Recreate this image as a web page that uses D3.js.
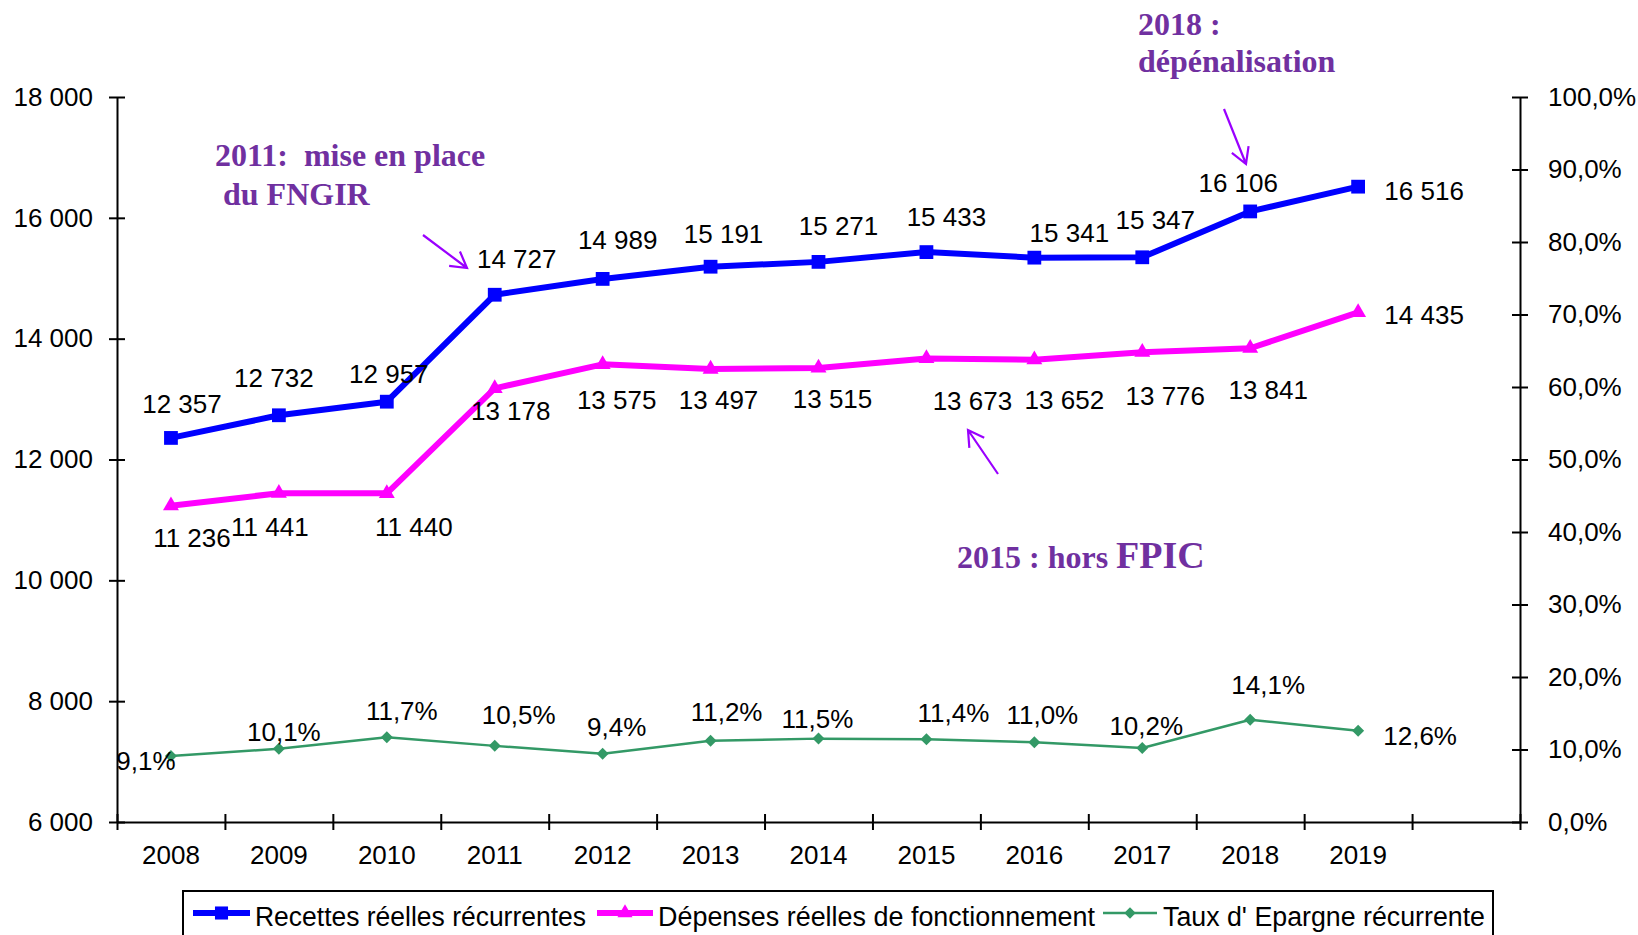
<html>

<head>
  <meta charset="utf-8">
  <script src="https://d3js.org/d3.v7.min.js"></script>
  <style>
    body {
      margin: 0;
      background: #fff;
    }

    text {
      font-family: "Liberation Sans", Arial, sans-serif;
    }

    .axis .domain,
    .axis line {
      stroke: #000;
      stroke-width: 2;
    }

    .axis text {
      font-size: 26px;
      fill: #000;
    }

    .lbl {
      font-size: 26px;
      fill: #000;
    }

    .note {
      font-family: "Liberation Serif", "Times New Roman", serif;
      font-weight: bold;
      font-size: 32px;
      fill: #7030A0;
      white-space: pre;
    }
  </style>
</head>

<body>
  <svg id="chart" width="1638" height="935"></svg>
  <script>
    // values
    const years = ["2008", "2009", "2010", "2011", "2012", "2013", "2014", "2015", "2016", "2017", "2018", "2019"];
    const recettes = [12357, 12732, 12957, 14727, 14989, 15191, 15271, 15433, 15341, 15347, 16106, 16516];
    const depenses = [11236, 11441, 11440, 13178, 13575, 13497, 13515, 13673, 13652, 13776, 13841, 14435];
    const taux = [9.1, 10.1, 11.7, 10.5, 9.4, 11.2, 11.5, 11.4, 11.0, 10.2, 14.1, 12.6];
    const leftTicks = [6000, 8000, 10000, 12000, 14000, 16000, 18000];
    const rightTicks = [0, 10, 20, 30, 40, 50, 60, 70, 80, 90, 100];
    const seriesNames = ["Recettes réelles récurrentes", "Dépenses réelles de fonctionnement", "Taux d' Epargne récurrente"];

    // where each data label sits relative to its point (dx, dy to baseline)
    const recNudge = [[11, -25], [-5, -28], [2, -19], [22, -27], [15, -30], [13, -24], [20, -27], [20, -26], [35, -16], [13, -28], [-12, -19], [66, 13]];
    const depNudge = [[21, 41], [-9, 43], [27, 43], [16, 32], [14, 45], [8, 40], [14, 40], [46, 52], [30, 49], [23, 53], [18, 51], [66, 12]];
    const tauxNudge = [[-25, 14], [5, -8], [15, -17], [24, -22], [14, -18], [16, -20], [-1, -11], [27, -17], [8, -18], [4, -13], [18, -26], [62, 14]];

    const svg = d3.select("svg#chart");
    const plotLeft = 117, plotRight = 1520, plotTop = 97, plotBottom = 822;
    const nSlots = 13;
    const slotW = (plotRight - plotLeft) / nSlots;

    const loc = d3.formatLocale({ decimal: ",", thousands: " ", grouping: [3], currency: ["", " €"] });
    const fmtInt = loc.format(",.0f");
    const fmtPct = d => loc.format(".1f")(d) + "%";

    const x = d3.scaleBand().domain(years).range([plotLeft, plotLeft + years.length * slotW]).padding(0);
    const slot = d3.scaleLinear().domain([0, nSlots]).range([plotLeft, plotRight]);
    const yL = d3.scaleLinear().domain([6000, 18000]).range([plotBottom, plotTop]);
    const yR = d3.scaleLinear().domain([0, 100]).range([plotBottom, plotTop]);
    const cx = i => x(years[i]) + x.bandwidth() / 2;

    // axes
    svg.append("g")
      .attr("class", "axis")
      .attr("transform", `translate(0,${plotBottom})`)
      .call(d3.axisBottom(slot).tickValues(d3.range(nSlots + 1)).tickFormat("").tickSizeInner(8).tickSizeOuter(0))
      .selectAll(".tick line").attr("y1", -8);

    svg.append("g")
      .attr("class", "axis")
      .attr("transform", `translate(0,${plotBottom})`)
      .call(d3.axisBottom(x).tickSize(0).tickPadding(24))
      .call(g => g.select(".domain").remove());

    svg.append("g")
      .attr("class", "axis")
      .attr("transform", `translate(${plotLeft},0)`)
      .call(d3.axisLeft(yL).tickValues(leftTicks).tickFormat(fmtInt).tickSizeInner(8).tickSizeOuter(0).tickPadding(16))
      .selectAll(".tick line").attr("x1", 8);

    svg.append("g")
      .attr("class", "axis")
      .attr("transform", `translate(${plotRight},0)`)
      .call(d3.axisRight(yR).tickValues(rightTicks).tickFormat(fmtPct).tickSizeInner(8).tickSizeOuter(0).tickPadding(20))
      .selectAll(".tick line").attr("x1", -8);

    // series
    const series = [
      { values: recettes, y: yL, color: "#0000FF", width: 6, symbol: d3.symbolSquare, size: 190, rotate: 0, nudge: recNudge, fmt: fmtInt },
      { values: depenses, y: yL, color: "#FF00FF", width: 6, symbol: d3.symbolTriangle, size: 110, rotate: 0, nudge: depNudge, fmt: fmtInt },
      { values: taux, y: yR, color: "#339966", width: 2.5, symbol: d3.symbolSquare, size: 72, rotate: 45, nudge: tauxNudge, fmt: fmtPct }
    ];

    series.forEach(s => {
      const line = d3.line().x((d, i) => cx(i)).y(d => s.y(d));
      svg.append("path")
        .datum(s.values)
        .attr("d", line)
        .attr("fill", "none")
        .attr("stroke", s.color)
        .attr("stroke-width", s.width)
        .attr("stroke-linejoin", "round");

      svg.append("g").selectAll("path").data(s.values).join("path")
        .attr("d", d3.symbol().type(s.symbol).size(s.size))
        .attr("transform", (d, i) => `translate(${cx(i)},${s.y(d)}) rotate(${s.rotate})`)
        .attr("fill", s.color);

      svg.append("g").selectAll("text").data(s.values).join("text")
        .attr("class", "lbl")
        .attr("text-anchor", "middle")
        .attr("x", (d, i) => cx(i) + s.nudge[i][0])
        .attr("y", (d, i) => s.y(d) + s.nudge[i][1])
        .text(d => s.fmt(d));
    });

    // annotations
    const notes = svg.append("g");
    const t2018 = notes.append("text").attr("class", "note");
    t2018.append("tspan").attr("x", 1138).attr("y", 35).text("2018 :");
    t2018.append("tspan").attr("x", 1138).attr("y", 72).text("dépénalisation");

    const t2011 = notes.append("text").attr("class", "note");
    t2011.append("tspan").attr("x", 215).attr("y", 166).text("2011:  mise en place");
    t2011.append("tspan").attr("x", 215).attr("y", 205).text(" du FNGIR");

    const t2015 = notes.append("text").attr("class", "note").attr("x", 957).attr("y", 568);
    t2015.append("tspan").text("2015 : hors ");
    t2015.append("tspan").style("font-size", "38px").text("FPIC");

    function arrow(x1, y1, x2, y2) {
      const a = Math.atan2(y2 - y1, x2 - x1);
      const len = 18, spread = Math.PI / 6;
      const p = d3.path();
      p.moveTo(x1, y1); p.lineTo(x2, y2);
      p.moveTo(x2 - len * Math.cos(a - spread), y2 - len * Math.sin(a - spread));
      p.lineTo(x2, y2);
      p.lineTo(x2 - len * Math.cos(a + spread), y2 - len * Math.sin(a + spread));
      notes.append("path")
        .attr("d", p.toString())
        .attr("fill", "none")
        .attr("stroke", "#9A00FF")
        .attr("stroke-width", 2.2);
    }
    arrow(423, 235, 467, 268);
    arrow(1224, 109, 1246, 164);
    arrow(998, 474, 968, 430);

    // legend
    const legend = svg.append("g");
    legend.append("rect")
      .attr("x", 183).attr("y", 891).attr("width", 1310).attr("height", 80)
      .attr("fill", "#fff").attr("stroke", "#000").attr("stroke-width", 2);

    const legendPos = [[193, 250, 255, 331], [597, 653, 658, 437], [1103, 1157, 1163, 322]];
    series.forEach((s, i) => {
      const [lx1, lx2, tx, tw] = legendPos[i];
      legend.append("line")
        .attr("x1", lx1).attr("x2", lx2).attr("y1", 913).attr("y2", 913)
        .attr("stroke", s.color).attr("stroke-width", s.width);
      legend.append("path")
        .attr("d", d3.symbol().type(s.symbol).size(s.size * 0.9))
        .attr("transform", `translate(${(lx1 + lx2) / 2},913) rotate(${s.rotate})`)
        .attr("fill", s.color);
      legend.append("text")
        .attr("class", "lbl")
        .style("font-size", "27px")
        .attr("x", tx).attr("y", 926)
        .attr("textLength", tw).attr("lengthAdjust", "spacingAndGlyphs")
        .text(seriesNames[i]);
    });
  </script>
</body>

</html>
